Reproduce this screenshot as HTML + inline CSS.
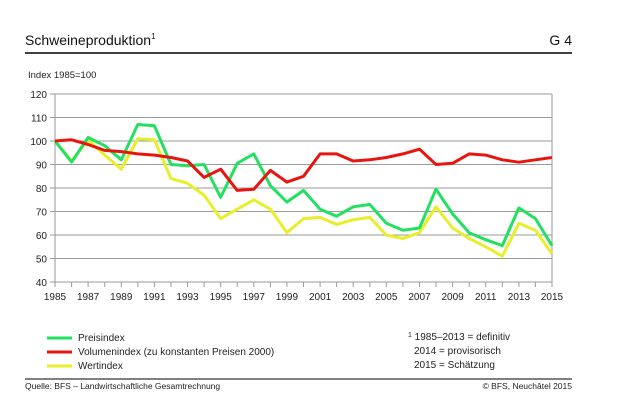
<!DOCTYPE html>
<html><head><meta charset="utf-8"><style>body{margin:0;background:#fff}svg{display:block;font-family:"Liberation Sans",sans-serif}</style></head><body>
<svg width="620" height="420" viewBox="0 0 620 420" xmlns="http://www.w3.org/2000/svg">
<text x="25" y="45" font-size="14" fill="#111">Schweineproduktion<tspan font-size="8" dy="-6">1</tspan></text>
<text x="572" y="45" font-size="14" fill="#111" text-anchor="end">G 4</text>
<line x1="25" y1="53" x2="572" y2="53" stroke="#000" stroke-width="1.5"/>
<text x="28" y="78" font-size="9.5" fill="#222">Index 1985=100</text>
<g stroke="#9a9a9a" stroke-width="1">
<line x1="55" y1="94" x2="552" y2="94"/><line x1="55" y1="117.5" x2="552" y2="117.5"/><line x1="55" y1="141" x2="552" y2="141"/><line x1="55" y1="164.5" x2="552" y2="164.5"/><line x1="55" y1="188" x2="552" y2="188"/><line x1="55" y1="211.5" x2="552" y2="211.5"/><line x1="55" y1="235" x2="552" y2="235"/><line x1="55" y1="258.5" x2="552" y2="258.5"/><line x1="55" y1="282" x2="552" y2="282"/>
<line x1="55" y1="94" x2="55" y2="282"/><line x1="552" y1="94" x2="552" y2="282"/>
<line x1="50" y1="94" x2="55" y2="94"/><line x1="50" y1="117.5" x2="55" y2="117.5"/><line x1="50" y1="141" x2="55" y2="141"/><line x1="50" y1="164.5" x2="55" y2="164.5"/><line x1="50" y1="188" x2="55" y2="188"/><line x1="50" y1="211.5" x2="55" y2="211.5"/><line x1="50" y1="235" x2="55" y2="235"/><line x1="50" y1="258.5" x2="55" y2="258.5"/><line x1="50" y1="282" x2="55" y2="282"/>
<path d="M55 282v5M71.6 282v5M88.1 282v5M104.7 282v5M121.3 282v5M137.8 282v5M154.4 282v5M171 282v5M187.5 282v5M204.1 282v5M220.7 282v5M237.2 282v5M253.8 282v5M270.4 282v5M286.9 282v5M303.5 282v5M320.1 282v5M336.6 282v5M353.2 282v5M369.8 282v5M386.3 282v5M402.9 282v5M419.5 282v5M436 282v5M452.6 282v5M469.2 282v5M485.7 282v5M502.3 282v5M518.9 282v5M535.4 282v5M552 282v5"/>
</g>
<g font-size="10" fill="#222" text-anchor="end">
<text x="47" y="98">120</text><text x="47" y="121.5">110</text><text x="47" y="145">100</text><text x="47" y="168.5">90</text><text x="47" y="192">80</text><text x="47" y="215.5">70</text><text x="47" y="239">60</text><text x="47" y="262.5">50</text><text x="47" y="286">40</text>
</g>
<g font-size="10" fill="#222" text-anchor="middle">
<text x="55" y="300">1985</text><text x="88.1" y="300">1987</text><text x="121.3" y="300">1989</text><text x="154.4" y="300">1991</text><text x="187.5" y="300">1993</text><text x="220.7" y="300">1995</text><text x="253.8" y="300">1997</text><text x="286.9" y="300">1999</text><text x="320.1" y="300">2001</text><text x="353.2" y="300">2003</text><text x="386.3" y="300">2005</text><text x="419.5" y="300">2007</text><text x="452.6" y="300">2009</text><text x="485.7" y="300">2011</text><text x="518.9" y="300">2013</text><text x="552" y="300">2015</text>
</g>
<g fill="none" stroke-width="3" stroke-linejoin="round">
<polyline stroke="#e6ef2a" points="55,141 71.6,161 88.1,139.8 104.7,155.1 121.3,169.2 137.8,138.7 154.4,139.8 171,178.6 187.5,183.3 204.1,195.1 220.7,218.6 237.2,209.2 253.8,199.8 270.4,209.2 286.9,232.7 303.5,218.6 320.1,217.4 336.6,224.4 353.2,219.7 369.8,217.4 386.3,235 402.9,238.5 419.5,232.7 436,206.8 452.6,228 469.2,238.5 485.7,246.8 502.3,256.2 518.9,223.3 535.4,230.3 552,253.8"/>
<polyline stroke="#22e060" points="55,141 71.6,162.1 88.1,137.5 104.7,145.7 121.3,159.8 137.8,124.5 154.4,125.7 171,164.5 187.5,165.7 204.1,164.5 220.7,197.4 237.2,163.3 253.8,153.9 270.4,185.7 286.9,202.1 303.5,190.4 320.1,209.2 336.6,216.2 353.2,206.8 369.8,204.5 386.3,223.3 402.9,230.3 419.5,228 436,189.2 452.6,213.9 469.2,232.7 485.7,239.7 502.3,245.6 518.9,207.9 535.4,218.6 552,245.6"/>
<polyline stroke="#e8150f" points="55,141 71.6,139.8 88.1,144.5 104.7,150.4 121.3,151.6 137.8,153.9 154.4,155.1 171,157.5 187.5,161 204.1,177.4 220.7,169.2 237.2,190.4 253.8,189.2 270.4,170.4 286.9,182.1 303.5,176.3 320.1,153.9 336.6,153.9 353.2,161 369.8,159.8 386.3,157.5 402.9,153.9 419.5,149.2 436,164.5 452.6,163.3 469.2,153.9 485.7,155.1 502.3,159.8 518.9,162.2 535.4,159.8 552,157.5"/>
</g>
<g stroke-width="3"><line x1="47" y1="338" x2="72" y2="338" stroke="#22e060"/><line x1="47" y1="352" x2="72" y2="352" stroke="#e8150f"/><line x1="47" y1="366" x2="72" y2="366" stroke="#e6ef2a"/></g>
<g font-size="10" fill="#222">
<text x="78" y="341">Preisindex</text><text x="78" y="355">Volumenindex (zu konstanten Preisen 2000)</text><text x="78" y="369">Wertindex</text>
<text x="408" y="340"><tspan font-size="7" dy="-3">1</tspan><tspan dy="3"> 1985–2013 = definitiv</tspan></text>
<text x="414" y="354">2014 = provisorisch</text><text x="414" y="368">2015 = Schätzung</text>
</g>
<line x1="25" y1="379" x2="572" y2="379" stroke="#000" stroke-width="1"/>
<text x="25" y="389" font-size="8.5" fill="#222">Quelle: BFS – Landwirtschaftliche Gesamtrechnung</text>
<text x="572" y="389" font-size="8.5" fill="#222" text-anchor="end">© BFS, Neuchâtel 2015</text>
</svg>
</body></html>
